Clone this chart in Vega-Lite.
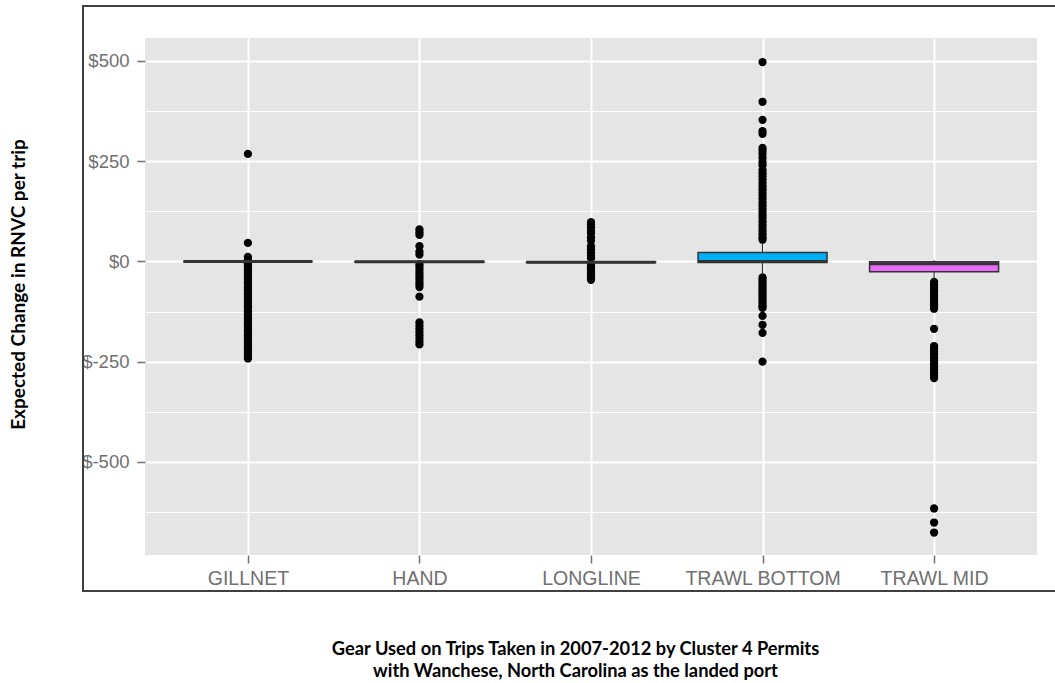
{
  "$schema": "https://vega.github.io/schema/vega-lite/v6.json",
  "width": 892,
  "height": 517,
  "autosize": {"type": "none"},
  "padding": {"left": 145, "top": 38, "right": 18, "bottom": 128},
  "background": "white",
  "config": {"view": {"fill": "#E5E5E5", "stroke": null}},
  "datasets": {
    "boxes": [
      {"gear": "GILLNET", "lower": 0, "q1": 0, "median": 0, "q3": 0, "upper": 0},
      {"gear": "HAND", "lower": -2, "q1": -2, "median": -1, "q3": 0, "upper": 0},
      {"gear": "LONGLINE", "lower": -3, "q1": -3, "median": -2, "q3": -1, "upper": -1},
      {"gear": "TRAWL BOTTOM", "lower": -33, "q1": -3, "median": 0, "q3": 22, "upper": 46},
      {"gear": "TRAWL MID", "lower": -45, "q1": -26, "median": -6, "q3": -1, "upper": 3}
    ],
    "outliers": [
      {"gear": "GILLNET", "value": 268}, {"gear": "GILLNET", "value": 46}, {"gear": "GILLNET", "value": 11}, {"gear": "GILLNET", "value": 5},
      {"gear": "GILLNET", "value": -5}, {"gear": "GILLNET", "value": -10}, {"gear": "GILLNET", "value": -16}, {"gear": "GILLNET", "value": -22},
      {"gear": "GILLNET", "value": -28}, {"gear": "GILLNET", "value": -34}, {"gear": "GILLNET", "value": -40}, {"gear": "GILLNET", "value": -46},
      {"gear": "GILLNET", "value": -52}, {"gear": "GILLNET", "value": -58}, {"gear": "GILLNET", "value": -64}, {"gear": "GILLNET", "value": -70},
      {"gear": "GILLNET", "value": -76}, {"gear": "GILLNET", "value": -82}, {"gear": "GILLNET", "value": -88}, {"gear": "GILLNET", "value": -94},
      {"gear": "GILLNET", "value": -100}, {"gear": "GILLNET", "value": -106}, {"gear": "GILLNET", "value": -112}, {"gear": "GILLNET", "value": -118},
      {"gear": "GILLNET", "value": -124}, {"gear": "GILLNET", "value": -130}, {"gear": "GILLNET", "value": -136}, {"gear": "GILLNET", "value": -142},
      {"gear": "GILLNET", "value": -148}, {"gear": "GILLNET", "value": -154}, {"gear": "GILLNET", "value": -160}, {"gear": "GILLNET", "value": -166},
      {"gear": "GILLNET", "value": -172}, {"gear": "GILLNET", "value": -178}, {"gear": "GILLNET", "value": -184}, {"gear": "GILLNET", "value": -190},
      {"gear": "GILLNET", "value": -196}, {"gear": "GILLNET", "value": -202}, {"gear": "GILLNET", "value": -208}, {"gear": "GILLNET", "value": -214},
      {"gear": "GILLNET", "value": -220}, {"gear": "GILLNET", "value": -226}, {"gear": "GILLNET", "value": -232}, {"gear": "GILLNET", "value": -238},
      {"gear": "GILLNET", "value": -242},
      {"gear": "HAND", "value": 80}, {"gear": "HAND", "value": 73}, {"gear": "HAND", "value": 66}, {"gear": "HAND", "value": 38},
      {"gear": "HAND", "value": 24}, {"gear": "HAND", "value": 17}, {"gear": "HAND", "value": -7}, {"gear": "HAND", "value": -14},
      {"gear": "HAND", "value": -21}, {"gear": "HAND", "value": -28}, {"gear": "HAND", "value": -35}, {"gear": "HAND", "value": -42},
      {"gear": "HAND", "value": -50}, {"gear": "HAND", "value": -57}, {"gear": "HAND", "value": -64}, {"gear": "HAND", "value": -88},
      {"gear": "HAND", "value": -152}, {"gear": "HAND", "value": -160}, {"gear": "HAND", "value": -168}, {"gear": "HAND", "value": -176},
      {"gear": "HAND", "value": -184}, {"gear": "HAND", "value": -192}, {"gear": "HAND", "value": -200}, {"gear": "HAND", "value": -207},
      {"gear": "LONGLINE", "value": 98}, {"gear": "LONGLINE", "value": 92}, {"gear": "LONGLINE", "value": 85}, {"gear": "LONGLINE", "value": 76},
      {"gear": "LONGLINE", "value": 70}, {"gear": "LONGLINE", "value": 60}, {"gear": "LONGLINE", "value": 52}, {"gear": "LONGLINE", "value": 38},
      {"gear": "LONGLINE", "value": 30}, {"gear": "LONGLINE", "value": 22}, {"gear": "LONGLINE", "value": 15}, {"gear": "LONGLINE", "value": 8},
      {"gear": "LONGLINE", "value": -6}, {"gear": "LONGLINE", "value": -12}, {"gear": "LONGLINE", "value": -18}, {"gear": "LONGLINE", "value": -24},
      {"gear": "LONGLINE", "value": -30}, {"gear": "LONGLINE", "value": -36}, {"gear": "LONGLINE", "value": -42}, {"gear": "LONGLINE", "value": -46},
      {"gear": "TRAWL BOTTOM", "value": 497}, {"gear": "TRAWL BOTTOM", "value": 398}, {"gear": "TRAWL BOTTOM", "value": 353}, {"gear": "TRAWL BOTTOM", "value": 325},
      {"gear": "TRAWL BOTTOM", "value": 318}, {"gear": "TRAWL BOTTOM", "value": 283}, {"gear": "TRAWL BOTTOM", "value": 276}, {"gear": "TRAWL BOTTOM", "value": 268},
      {"gear": "TRAWL BOTTOM", "value": 258}, {"gear": "TRAWL BOTTOM", "value": 248}, {"gear": "TRAWL BOTTOM", "value": 240}, {"gear": "TRAWL BOTTOM", "value": 228},
      {"gear": "TRAWL BOTTOM", "value": 220}, {"gear": "TRAWL BOTTOM", "value": 212}, {"gear": "TRAWL BOTTOM", "value": 204}, {"gear": "TRAWL BOTTOM", "value": 196},
      {"gear": "TRAWL BOTTOM", "value": 188}, {"gear": "TRAWL BOTTOM", "value": 180}, {"gear": "TRAWL BOTTOM", "value": 172}, {"gear": "TRAWL BOTTOM", "value": 164},
      {"gear": "TRAWL BOTTOM", "value": 156}, {"gear": "TRAWL BOTTOM", "value": 148}, {"gear": "TRAWL BOTTOM", "value": 140}, {"gear": "TRAWL BOTTOM", "value": 132},
      {"gear": "TRAWL BOTTOM", "value": 124}, {"gear": "TRAWL BOTTOM", "value": 116}, {"gear": "TRAWL BOTTOM", "value": 108}, {"gear": "TRAWL BOTTOM", "value": 100},
      {"gear": "TRAWL BOTTOM", "value": 92}, {"gear": "TRAWL BOTTOM", "value": 84}, {"gear": "TRAWL BOTTOM", "value": 76}, {"gear": "TRAWL BOTTOM", "value": 68},
      {"gear": "TRAWL BOTTOM", "value": 60}, {"gear": "TRAWL BOTTOM", "value": 54},
      {"gear": "TRAWL BOTTOM", "value": -40}, {"gear": "TRAWL BOTTOM", "value": -46}, {"gear": "TRAWL BOTTOM", "value": -52}, {"gear": "TRAWL BOTTOM", "value": -58},
      {"gear": "TRAWL BOTTOM", "value": -64}, {"gear": "TRAWL BOTTOM", "value": -70}, {"gear": "TRAWL BOTTOM", "value": -76}, {"gear": "TRAWL BOTTOM", "value": -82},
      {"gear": "TRAWL BOTTOM", "value": -88}, {"gear": "TRAWL BOTTOM", "value": -94}, {"gear": "TRAWL BOTTOM", "value": -100}, {"gear": "TRAWL BOTTOM", "value": -106},
      {"gear": "TRAWL BOTTOM", "value": -112}, {"gear": "TRAWL BOTTOM", "value": -116}, {"gear": "TRAWL BOTTOM", "value": -136}, {"gear": "TRAWL BOTTOM", "value": -158},
      {"gear": "TRAWL BOTTOM", "value": -178}, {"gear": "TRAWL BOTTOM", "value": -250},
      {"gear": "TRAWL MID", "value": -51}, {"gear": "TRAWL MID", "value": -58}, {"gear": "TRAWL MID", "value": -65}, {"gear": "TRAWL MID", "value": -72},
      {"gear": "TRAWL MID", "value": -79}, {"gear": "TRAWL MID", "value": -86}, {"gear": "TRAWL MID", "value": -93}, {"gear": "TRAWL MID", "value": -100},
      {"gear": "TRAWL MID", "value": -107}, {"gear": "TRAWL MID", "value": -113}, {"gear": "TRAWL MID", "value": -118}, {"gear": "TRAWL MID", "value": -168},
      {"gear": "TRAWL MID", "value": -211}, {"gear": "TRAWL MID", "value": -218}, {"gear": "TRAWL MID", "value": -225}, {"gear": "TRAWL MID", "value": -232},
      {"gear": "TRAWL MID", "value": -240}, {"gear": "TRAWL MID", "value": -247}, {"gear": "TRAWL MID", "value": -255}, {"gear": "TRAWL MID", "value": -262},
      {"gear": "TRAWL MID", "value": -270}, {"gear": "TRAWL MID", "value": -277}, {"gear": "TRAWL MID", "value": -285}, {"gear": "TRAWL MID", "value": -291},
      {"gear": "TRAWL MID", "value": -616}, {"gear": "TRAWL MID", "value": -651}, {"gear": "TRAWL MID", "value": -676}
    ]
  },
  "layer": [
    {
      "layer": [
        {
          "data": {"name": "outliers"},
          "mark": {"type": "circle", "size": 68, "color": "black", "opacity": 1},
          "encoding": {
            "x": {
              "field": "gear", "type": "nominal",
              "scale": {"type": "point", "padding": 0.6, "domain": ["GILLNET", "HAND", "LONGLINE", "TRAWL BOTTOM", "TRAWL MID"]},
              "axis": {
                "title": ["Gear Used on Trips Taken in 2007-2012 by Cluster 4 Permits", "with Wanchese, North Carolina as the landed port"],
                "titleFont": "Lato", "titleFontWeight": "bold", "titleFontSize": 18.3, "titleColor": "black",
                "titleX": 430, "titleY": 85, "titleBaseline": "top", "titleAlign": "center", "titleLineHeight": 22,
                "labelFont": "Liberation Sans", "labelFontSize": 19.5, "labelColor": "#707070", "labelPadding": 6, "labelAngle": 0,
                "tickColor": "#707070", "tickSize": 8, "tickWidth": 1.5,
                "domain": false, "grid": true, "gridColor": "white", "gridWidth": 2
              }
            },
            "y": {
              "field": "value", "type": "quantitative",
              "scale": {"domain": [-732, 557], "nice": false, "zero": false},
              "axis": {
                "values": [-625, -500, -375, -250, -125, 0, 125, 250, 375, 500],
                "labelExpr": "datum.value % 250 === 0 ? '$' + datum.value : ''",
                "title": "Expected Change in RNVC per trip",
                "titleFont": "Lato", "titleFontWeight": "bold", "titleFontSize": 19, "titleColor": "black",
                "titleX": -127, "titleY": 246, "titleAngle": -90, "titleBaseline": "middle", "titleAlign": "center",
                "labelFont": "Liberation Sans", "labelFontSize": 18.5, "labelColor": "#707070", "labelPadding": 8,
                "tickColor": "#707070", "tickSize": 8, "tickWidth": 1.5,
                "tickOpacity": {"condition": {"test": "datum.value % 250 === 0", "value": 1}, "value": 0},
                "domain": false, "grid": true, "gridColor": "white",
                "gridWidth": {"condition": {"test": "datum.value % 250 === 0", "value": 2}, "value": 1}
              }
            }
          }
        },
        {
          "data": {"name": "boxes"},
          "mark": {"type": "rule", "color": "#333333", "strokeWidth": 1.2},
          "encoding": {
            "x": {"field": "gear", "type": "nominal"},
            "y": {"field": "lower", "type": "quantitative"},
            "y2": {"field": "upper"}
          }
        },
        {
          "data": {"name": "boxes"},
          "mark": {"type": "bar", "size": 129, "stroke": "#333333", "strokeWidth": 1.5},
          "encoding": {
            "x": {"field": "gear", "type": "nominal"},
            "y": {"field": "q1", "type": "quantitative"},
            "y2": {"field": "q3"},
            "fill": {
              "field": "gear", "type": "nominal", "legend": null,
              "scale": {"domain": ["GILLNET", "HAND", "LONGLINE", "TRAWL BOTTOM", "TRAWL MID"], "range": ["#F8766D", "#A3A500", "#00BF7D", "#00B0F6", "#E76BF3"]}
            }
          }
        },
        {
          "data": {"name": "boxes"},
          "mark": {"type": "tick", "size": 129, "thickness": 3, "color": "#333333", "opacity": 1},
          "encoding": {
            "x": {"field": "gear", "type": "nominal"},
            "y": {"field": "median", "type": "quantitative"}
          }
        }
      ]
    },
    {
      "data": {"values": [{}]},
      "mark": {"type": "rect", "fillOpacity": 0, "stroke": "#404040", "strokeWidth": 2},
      "encoding": {
        "x": {"datum": -0.0695, "type": "quantitative", "scale": {"domain": [0, 1], "nice": false, "zero": false}, "axis": null},
        "x2": {"datum": 1.03},
        "y": {"datum": 1.0619, "type": "quantitative", "scale": {"domain": [0, 1], "nice": false, "zero": false}, "axis": null},
        "y2": {"datum": -0.0696}
      }
    }
  ],
  "resolve": {"scale": {"x": "independent", "y": "independent"}}
}
